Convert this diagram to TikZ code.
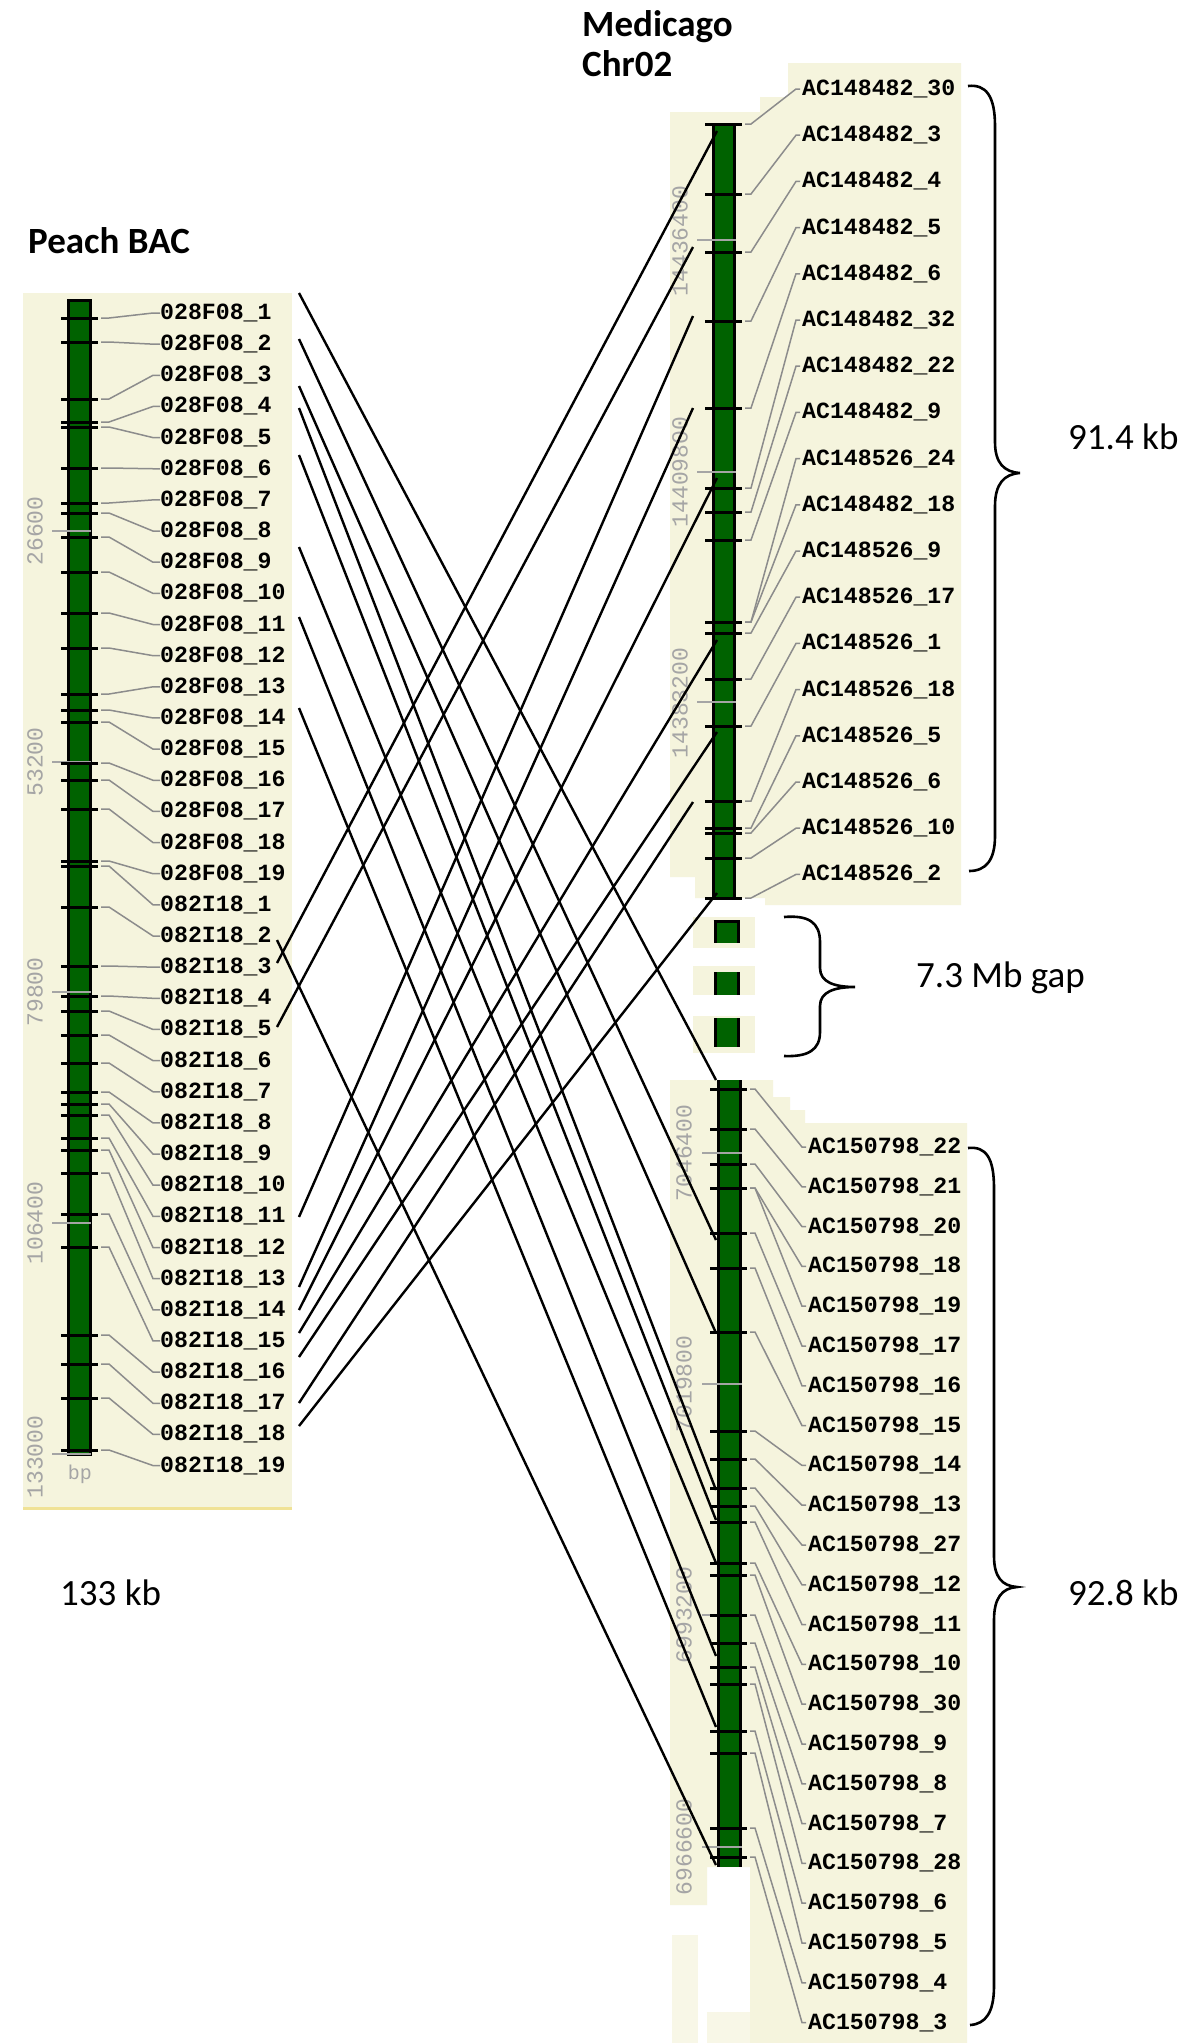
\documentclass[tikz,border=0pt]{standalone}
\usepackage{fontspec}
\setmainfont{Carlito}
\newfontfamily\pixfont{Liberation Mono}
\definecolor{beige}{RGB}{245,244,221}
\definecolor{bargreen}{RGB}{0,98,0}
\definecolor{leadgray}{RGB}{140,140,140}
\definecolor{scalegray}{RGB}{165,165,165}
\definecolor{panelline}{RGB}{240,226,150}
\tikzset{
  lbl/.style={anchor=west,inner sep=0pt,font=\pixfont\bfseries\fontsize{23.2}{26}\selectfont},
  scl/.style={rotate=90,inner sep=0pt,text=scalegray,font=\pixfont\fontsize{23}{26}\selectfont},
  ttl/.style={anchor=west,inner sep=0pt,font=\bfseries\fontsize{37}{42}\selectfont},
  ann/.style={anchor=west,inner sep=0pt,font=\fontsize{37}{42}\selectfont},
  tick/.style={line width=3pt,black},
  stick/.style={line width=2.5pt,scalegray},
  leader/.style={line width=1.5pt,leadgray},
  conn/.style={line width=2.4pt,black},
  brace/.style={line width=2.6pt,black},
  barfill/.style={fill=bargreen},
}
\begin{document}
\begin{tikzpicture}[x=1pt,y=-1pt]
\useasboundingbox (0,0) rectangle (1200,2043);
\fill[white] (0,0) rectangle (1200,2043);
% ---------- panels ----------
\fill[beige] (23,293) rectangle (292,1507);
\draw[line width=3pt,panelline] (23,1508) -- (292,1508);
\fill[beige] (788,63) -- (961,63) -- (961,905) -- (765,905) -- (765,898) -- (695,898) -- (695,877) -- (670,877) -- (670,112) -- (760,112) -- (760,97) -- (788,97) -- cycle;
\fill[beige] (693,917) rectangle (755,948);
\fill[beige] (693,966) rectangle (755,995);
\fill[beige] (693,1016) rectangle (755,1053);
\fill[beige] (670,1080) -- (773,1080) -- (773,1097) -- (790,1097) -- (790,1110) -- (805,1110) -- (805,1123) -- (967,1123) -- (967,2043) -- (750,2043) -- (750,1867) -- (707,1867) -- (707,1905) -- (670,1905) -- cycle;
\fill[beige!70!white] (672,1935) rectangle (698,2043);
\fill[beige!70!white] (707,2012) rectangle (750,2043);
% ---------- titles ----------
\node[ttl] (tpeach) at (28,241) {Peach BAC};
\node[ttl] (tmed) at (582,27) {Medicago};
\node[ttl] (tchr) at (582,64) {Chr02};
% ---------- left bar ----------
\filldraw[barfill,draw=black,line width=3pt] (68,300) rectangle (90,1454);
\foreach \y in {531,762,992,1223,1454} \draw[stick] (52,\y) -- (91,\y);
\node[scl] (s1) at (35,531) {26600};
\node[scl] (s2) at (35,762) {53200};
\node[scl] (s3) at (35,992) {79800};
\node[scl] (s4) at (35,1223) {106400};
\node[scl] (s5) at (35,1457) {133000};
\node[inner sep=0pt,text=scalegray,font=\pixfont\fontsize{20}{22}\selectfont] (bp) at (80,1474) {bp};
\foreach \n/\t [count=\i] in {028F08\_1/318, 028F08\_2/342, 028F08\_3/399, 028F08\_4/422, 028F08\_5/427, 028F08\_6/468, 028F08\_7/503, 028F08\_8/513, 028F08\_9/537, 028F08\_10/572, 028F08\_11/613, 028F08\_12/648, 028F08\_13/694, 028F08\_14/710, 028F08\_15/722, 028F08\_16/763, 028F08\_17/780, 028F08\_18/809, 028F08\_19/861, 082I18\_1/866, 082I18\_2/907, 082I18\_3/966, 082I18\_4/996, 082I18\_5/1011, 082I18\_6/1035, 082I18\_7/1063, 082I18\_8/1092, 082I18\_9/1104, 082I18\_10/1115, 082I18\_11/1138, 082I18\_12/1150, 082I18\_13/1173, 082I18\_14/1214, 082I18\_15/1247, 082I18\_16/1335, 082I18\_17/1364, 082I18\_18/1398, 082I18\_19/1450} {
  \pgfmathsetmacro\ly{313+31.15*(\i-1)}
  \draw[tick] (61,\t) -- (98,\t);
  \coordinate (lt\i) at (101,\t);
  \node[lbl] (ll\i) at (160,\ly) {\n};
  \draw[leader] (lt\i) -- ++(8,0) -- ([xshift=-7pt]ll\i.west) -- (ll\i.west);
}
% ---------- right top bar ----------
\filldraw[barfill,draw=black,line width=3pt] (713.5,124) rectangle (734,898);
\foreach \y in {240,472,702} \draw[stick] (697,\y) -- (736,\y);
\node[scl] (s6) at (680,241) {14436400};
\node[scl] (s7) at (680,472) {14409800};
\node[scl] (s8) at (680,703) {14383200};
\foreach \n/\t [count=\i] in {AC148482\_30/124, AC148482\_3/194, AC148482\_4/252, AC148482\_5/321, AC148482\_6/408, AC148482\_32/488, AC148482\_22/512, AC148482\_9/540, AC148526\_24/622, AC148482\_18/622, AC148526\_9/633, AC148526\_17/679, AC148526\_1/726, AC148526\_18/801, AC148526\_5/828, AC148526\_6/833, AC148526\_10/858, AC148526\_2/898} {
  \pgfmathsetmacro\ly{89+46.2*(\i-1)}
  \draw[tick] (705,\t) -- (742,\t);
  \coordinate (rt\i) at (745,\t);
  \node[lbl] (rl\i) at (802,\ly) {\n};
  \draw[leader] (rt\i) -- ++(6,0) -- ([xshift=-6pt]rl\i.west) -- ([xshift=-2pt]rl\i.west);
}
% ---------- gap blocks ----------
\foreach \a/\b in {921/943,972/995,1018/1047} {
  \fill[bargreen] (715,\a) rectangle (738,\b);
  \draw[line width=3pt] (715,\a) -- (715,\b) (738,\a) -- (738,\b);
}
\draw[line width=3pt] (713.5,921) -- (739.5,921);
% ---------- right lower bar ----------
\fill[bargreen] (718.5,1080) rectangle (740,1867);
\draw[line width=3pt] (718.5,1080) -- (718.5,1867) (740,1080) -- (740,1867);
\foreach \y in {1153,1384,1615,1847} \draw[stick] (702,\y) -- (742,\y);
\node[scl] (s9) at (684,1153) {7046400};
\node[scl] (s10) at (684,1384) {7019800};
\node[scl] (s11) at (684,1615) {6993200};
\node[scl] (s12) at (684,1847) {6966600};
\foreach \n/\t [count=\i] in {AC150798\_22/1089, AC150798\_21/1129, AC150798\_20/1164, AC150798\_18/1188, AC150798\_19/1188, AC150798\_17/1233, AC150798\_16/1268, AC150798\_15/1332, AC150798\_14/1431, AC150798\_13/1459, AC150798\_27/1488, AC150798\_12/1506, AC150798\_11/1522, AC150798\_10/1563, AC150798\_30/1575, AC150798\_9/1615, AC150798\_8/1643, AC150798\_7/1667, AC150798\_28/1684, AC150798\_6/1731, AC150798\_5/1753, AC150798\_4/1828, AC150798\_3/1857} {
  \pgfmathsetmacro\ly{1147+39.8*(\i-1)}
  \draw[tick] (710,\t) -- (747,\t);
  \coordinate (bt\i) at (750,\t);
  \node[lbl] (bl\i) at (808,\ly) {\n};
  \draw[leader] (bt\i) -- ++(5,0) -- ([xshift=-6pt]bl\i.west) -- ([xshift=-2pt]bl\i.west);
}
% ---------- connectors ----------
\foreach \k/\ya/\yb in {1/293/1080, 2/339/1240, 3/386/1333, 4/408/1490, 5/455/1520, 6/547/1563, 7/617/1656, 8/708/1727} {
  \coordinate (da\k) at (299,\ya);
  \coordinate (db\k) at (716,\yb);
  \draw[conn] (da\k) -- (db\k);
}
\coordinate (da9) at (277,940);
\coordinate (db9) at (716,1865);
\draw[conn] (da9) -- (db9);
\foreach \k/\xa/\ya/\xb/\yb in {1/277/963/717/131, 2/277/1027/693/247, 3/299/1217/693/316, 4/299/1287/693/408, 5/299/1310/717/478, 6/299/1333/717/640, 7/299/1357/717/732, 8/299/1403/693/802, 9/299/1426/717/893} {
  \coordinate (ua\k) at (\xa,\ya);
  \coordinate (ub\k) at (\xb,\yb);
  \draw[conn] (ua\k) -- (ub\k);
}
% ---------- braces ----------
\draw[brace] (968,86) .. controls (986,84) and (995,96) .. (995,126) -- (995,442) .. controls (995,463) and (1004,472) .. (1020,473) .. controls (1004,474) and (995,484) .. (995,506) -- (995,836) .. controls (995,860) and (986,871) .. (969,871);
\draw[brace] (784,917) .. controls (808,915) and (820,922) .. (820,942) -- (820,968) .. controls (820,982) and (834,987) .. (855,987) .. controls (834,987) and (820,992) .. (820,1006) -- (820,1032) .. controls (820,1050) and (808,1057) .. (784,1056);
\draw[brace] (968,1148) .. controls (986,1146) and (994,1158) .. (994,1188) -- (994,1556) .. controls (994,1577) and (1002,1586) .. (1017,1587) .. controls (1002,1588) and (994,1598) .. (994,1620) -- (994,1986) .. controls (994,2012) and (986,2024) .. (970,2025);
% ---------- annotations ----------
\node[ann] (a1) at (1068,437) {91.4 kb};
\node[ann] (a2) at (916,978) {7.3 Mb gap};
\node[ann] (a3) at (1068,1593) {92.8 kb};
\node[ann] (a4) at (60,1593) {133 kb};
\end{tikzpicture}
\end{document}
